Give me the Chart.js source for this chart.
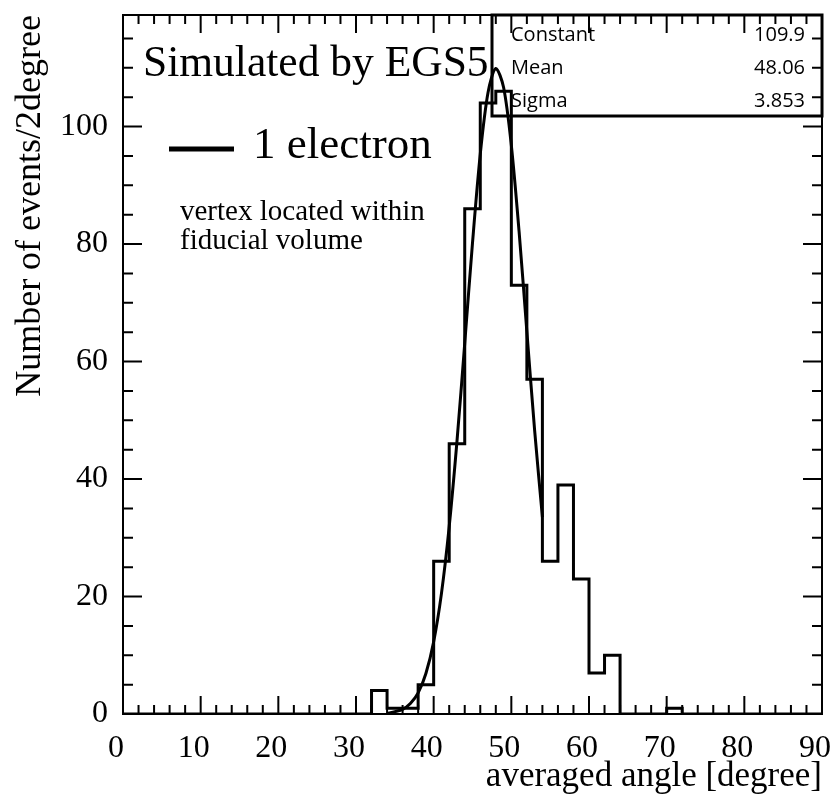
<!DOCTYPE html>
<html>
<head>
<meta charset="utf-8">
<script src="https://cdn.jsdelivr.net/npm/chart.js@4.4.1/dist/chart.umd.min.js"></script>
<style>
  html, body { margin: 0; padding: 0; background: #fff; }
  #wrap { width: 837px; height: 800px; }
</style>
</head>
<body>
<div id="wrap"><canvas id="histo" width="837" height="800"></canvas></div>
<script>
// Histogram: left bin edges (2 degree bins) and counts
const binEdges = [0, 2, 4, 6, 8, 10, 12, 14, 16, 18, 20, 22, 24, 26, 28, 30,
                  32, 34, 36, 38, 40, 42, 44, 46, 48, 50, 52, 54, 56, 58, 60,
                  62, 64, 66, 68, 70, 72, 74, 76, 78, 80, 82, 84, 86, 88];
const binCounts = [0, 0, 0, 0, 0, 0, 0, 0, 0, 0, 0, 0, 0, 0, 0, 0,
                   4, 1, 1, 5, 26, 46, 86, 104, 106, 73, 57, 26, 39, 23, 7,
                   10, 0, 0, 0, 1, 0, 0, 0, 0, 0, 0, 0, 0, 0];
const histEnd = 90;

// Gaussian fit curve
const fitX = [34, 35, 36, 37, 38, 39, 40, 41, 42, 43, 44, 45, 46, 47, 48, 49, 50, 51, 52, 53, 54];
const fitY = [0.1, 0.4, 0.8, 1.8, 3.6, 6.9, 12.3, 20.5, 31.9, 46.4, 63.1, 80.2, 95.3, 105.8, 109.9,
              106.7, 96.8, 82.1, 65.1, 48.3, 33.5];

// Stats box
const statNames = ['Constant', 'Mean', 'Sigma'];
const statValues = ['109.9', '48.06', '3.853'];

// Axis ticks
const xMin = 0, xMax = 90, xMinorStep = 2;
const xTickLabels = [0, 10, 20, 30, 40, 50, 60, 70, 80, 90];
const yMin = 0, yMax = 119, yMinorStep = 5;
const yTickLabels = [0, 20, 40, 60, 80, 100];

const SERIF = '"Liberation Serif", "DejaVu Serif", serif';
const SANS = '"Open Sans", "Noto Sans", sans-serif';

const histPoints = binEdges.map((e, i) => ({ x: e, y: binCounts[i] }));
histPoints.push({ x: histEnd, y: binCounts[binCounts.length - 1] });
const fitPoints = fitX.map((x, i) => ({ x: x, y: fitY[i] }));

function stepTicks(min, max, step) {
    const out = [];
    for (let v = min; v <= max + 1e-9; v += step) out.push({ value: v });
    return out;
}

// Frame, inward ticks on all four sides, and text annotations
const rootStyle = {
    id: 'rootStyle',
    beforeDraw(chart) {
        const c = chart.ctx;
        c.save();
        c.fillStyle = '#fff';
        c.fillRect(0, 0, chart.width, chart.height);
        c.restore();
    },
    afterDatasetsDraw(chart) {
        const c = chart.ctx;
        const a = chart.chartArea;
        const xs = chart.scales.x, ys = chart.scales.y;
        c.save();
        c.strokeStyle = '#000';
        c.lineWidth = 2;
        c.strokeRect(a.left, a.top, a.right - a.left, a.bottom - a.top);

        c.beginPath();
        xs.ticks.forEach(t => {
            const px = xs.getPixelForValue(t.value);
            const len = xTickLabels.includes(t.value) ? 18 : 9;
            c.moveTo(px, a.bottom); c.lineTo(px, a.bottom - len);
            c.moveTo(px, a.top); c.lineTo(px, a.top + len);
        });
        ys.ticks.forEach(t => {
            const py = ys.getPixelForValue(t.value);
            const len = yTickLabels.includes(t.value) ? 19 : 10;
            c.moveTo(a.left, py); c.lineTo(a.left + len, py);
            c.moveTo(a.right, py); c.lineTo(a.right - len, py);
        });
        c.stroke();

        // stats box
        const bx = 492, by = a.top, bw = a.right - bx, bh = 116 - a.top;
        c.lineWidth = 3;
        c.strokeRect(bx, by, bw, bh);
        c.font = '20px ' + SANS;
        c.fillStyle = '#000';
        c.textBaseline = 'alphabetic';
        statNames.forEach((n, i) => {
            const yy = 41 + i * 33;
            c.textAlign = 'left';
            c.fillText(n, 511, yy);
            c.textAlign = 'right';
            c.fillText(statValues[i], 805, yy);
        });

        // labels
        c.textAlign = 'left';
        c.font = '43.5px ' + SERIF;
        c.fillText('Simulated by EGS5', 143, 76);
        c.lineWidth = 5;
        c.beginPath();
        c.moveTo(169, 149); c.lineTo(234, 149);
        c.stroke();
        c.font = '45px ' + SERIF;
        c.fillText('1 electron', 253, 158);
        c.font = '29px ' + SERIF;
        c.fillText('vertex located within', 180, 220);
        c.fillText('fiducial volume', 180, 249);
        c.restore();
    }
};

new Chart(document.getElementById('histo'), {
    type: 'line',
    data: {
        datasets: [
            {
                label: 'histogram',
                data: histPoints,
                stepped: true,
                borderColor: '#000',
                borderWidth: 3,
                pointRadius: 0,
                fill: false
            },
            {
                label: 'gaus fit',
                data: fitPoints,
                borderColor: '#000',
                borderWidth: 3,
                pointRadius: 0,
                tension: 0.3,
                fill: false
            }
        ]
    },
    options: {
        responsive: false,
        animation: false,
        layout: { padding: { top: 15, right: 15, left: 0, bottom: 0 } },
        plugins: {
            legend: { display: false },
            tooltip: { enabled: false }
        },
        scales: {
            x: {
                type: 'linear',
                min: xMin,
                max: xMax,
                afterBuildTicks: s => { s.ticks = stepTicks(xMin, xMax, xMinorStep); },
                afterFit: s => { s.height = 86; s.paddingLeft = 0; s.paddingRight = 0; },
                grid: { display: false, drawTicks: false },
                border: { display: false },
                ticks: {
                    autoSkip: false,
                    maxRotation: 0,
                    padding: 15,
                    labelOffset: -7,
                    color: '#000',
                    font: { family: SERIF, size: 32 },
                    callback: v => (xTickLabels.includes(v) ? String(v) : '')
                },
                title: {
                    display: true,
                    text: 'averaged angle [degree]',
                    align: 'end',
                    color: '#000',
                    font: { family: SERIF, size: 35 },
                    padding: { top: 0, bottom: 2 }
                }
            },
            y: {
                type: 'linear',
                min: yMin,
                max: yMax,
                afterBuildTicks: s => { s.ticks = stepTicks(yMin, 115, yMinorStep); },
                afterFit: s => { s.width = 123; s.paddingTop = 0; s.paddingBottom = 0; },
                grid: { display: false, drawTicks: false },
                border: { display: false },
                ticks: {
                    autoSkip: false,
                    padding: 15,
                    color: '#000',
                    font: { family: SERIF, size: 32 },
                    callback: v => (yTickLabels.includes(v) ? String(v) : '')
                },
                title: {
                    display: true,
                    text: 'Number of events/2degree',
                    align: 'end',
                    color: '#000',
                    font: { family: SERIF, size: 36 },
                    padding: { top: 9, bottom: 0 }
                }
            }
        }
    },
    plugins: [rootStyle]
});
</script>
</body>
</html>
